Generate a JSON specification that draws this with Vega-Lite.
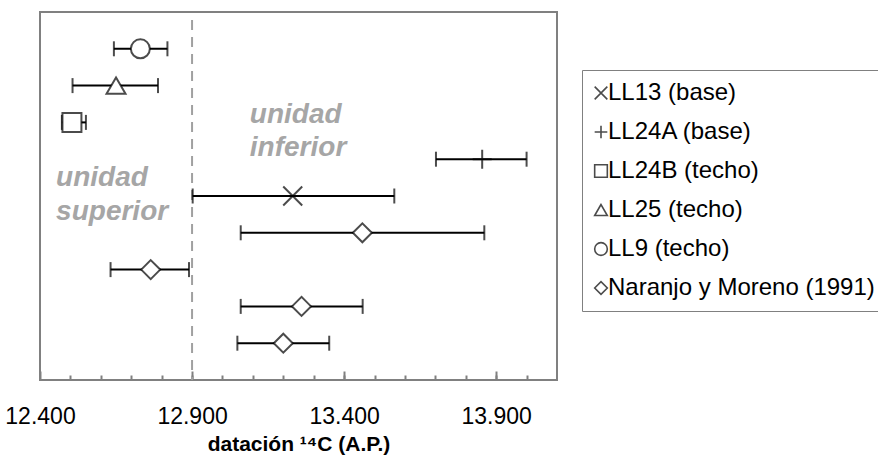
{
  "$schema": "https://vega.github.io/schema/vega-lite/v6.json",
  "width": 517,
  "height": 368,
  "autosize": {"type": "none"},
  "padding": {"left": 40, "top": 12, "right": 321, "bottom": 85},
  "background": "white",
  "config": {"font": "Liberation Sans", "view": {"stroke": "#808080", "strokeWidth": 2}},
  "resolve": {"axis": {"x": "independent"}, "legend": {"shape": "independent"}},
  "datasets": {
    "dates": [
      {"serie": "LL9 (techo)", "fila": 1, "edad": 12730, "min": 12643, "max": 12819},
      {"serie": "LL25 (techo)", "fila": 2, "edad": 12650, "min": 12507, "max": 12788},
      {"serie": "LL24B (techo)", "fila": 3, "edad": 12505, "min": 12472, "max": 12551},
      {"serie": "LL24A (base)", "fila": 4, "edad": 13854, "min": 13702, "max": 14000},
      {"serie": "LL13 (base)", "fila": 5, "edad": 13231, "min": 12902, "max": 13565},
      {"serie": "Naranjo y Moreno (1991)", "fila": 6, "edad": 13460, "min": 13060, "max": 13861},
      {"serie": "Naranjo y Moreno (1991)", "fila": 7, "edad": 12764, "min": 12632, "max": 12890},
      {"serie": "Naranjo y Moreno (1991)", "fila": 8, "edad": 13260, "min": 13060, "max": 13461},
      {"serie": "Naranjo y Moreno (1991)", "fila": 9, "edad": 13200, "min": 13049, "max": 13351}
    ],
    "rotulos": [
      {"texto": "unidad", "edad": 12453, "fila": 4.51},
      {"texto": "superior", "edad": 12453, "fila": 5.43},
      {"texto": "unidad", "edad": 13090, "fila": 2.8},
      {"texto": "inferior", "edad": 13090, "fila": 3.7}
    ],
    "divisoria": [{"edad": 12900, "desde": 0.22, "hasta": 10}]
  },
  "layer": [
    {
      "data": {"name": "rotulos"},
      "mark": {"type": "text", "align": "left", "baseline": "middle", "fontSize": 28, "fontWeight": "bold", "fontStyle": "italic", "color": "#a6a6a6", "font": "Liberation Sans"},
      "encoding": {
        "x": {"field": "edad", "type": "quantitative", "axis": null},
        "y": {"field": "fila", "type": "quantitative", "scale": {"domain": [0, 10], "reverse": true, "nice": false, "zero": false}, "axis": null},
        "text": {"field": "texto"}
      }
    },
    {
      "data": {"name": "divisoria"},
      "mark": {"type": "rule", "color": "#a0a0a0", "strokeWidth": 2, "strokeDash": [10, 7]},
      "encoding": {
        "x": {"field": "edad", "type": "quantitative", "axis": null},
        "y": {"field": "desde", "type": "quantitative", "axis": null},
        "y2": {"field": "hasta"}
      }
    },
    {
      "data": {"name": "dates"},
      "mark": {"type": "rule", "color": "black", "strokeWidth": 2},
      "encoding": {
        "x": {"field": "min", "type": "quantitative", "axis": null},
        "x2": {"field": "max"},
        "y": {"field": "fila", "type": "quantitative", "axis": null}
      }
    },
    {
      "data": {"name": "dates"},
      "mark": {"type": "tick", "orient": "vertical", "size": 15, "thickness": 2, "color": "black"},
      "encoding": {
        "x": {"field": "min", "type": "quantitative", "axis": null},
        "y": {"field": "fila", "type": "quantitative", "axis": null}
      }
    },
    {
      "data": {"name": "dates"},
      "mark": {"type": "tick", "orient": "vertical", "size": 15, "thickness": 2, "color": "black"},
      "encoding": {
        "x": {"field": "max", "type": "quantitative", "axis": null},
        "y": {"field": "fila", "type": "quantitative", "axis": null}
      }
    },
    {
      "data": {"name": "dates"},
      "mark": {"type": "point", "filled": true, "color": "white", "opacity": 1, "size": 360},
      "encoding": {
        "x": {
          "field": "edad",
          "type": "quantitative",
          "axis": {
            "orient": "bottom",
            "title": null,
            "values": [12500, 12600, 12700, 12800, 12900, 13000, 13100, 13200, 13300, 13400, 13500, 13600, 13700, 13800, 13900, 14000],
            "domain": false,
            "grid": false,
            "labels": false,
            "tickColor": "#808080",
            "tickWidth": 2,
            "tickSize": -5
          }
        },
        "y": {"field": "fila", "type": "quantitative", "axis": null},
        "shape": {"field": "serie", "type": "nominal", "legend": null}
      }
    },
    {
      "data": {"name": "dates"},
      "mark": {"type": "point", "filled": false, "stroke": "black", "strokeWidth": 2, "size": 360},
      "encoding": {
        "x": {
          "field": "edad",
          "type": "quantitative",
          "scale": {"domain": [12400, 14100], "nice": false, "zero": false},
          "axis": {
            "orient": "bottom",
            "title": "datación ¹⁴C (A.P.)",
            "values": [12400, 12900, 13400, 13900],
            "domain": false,
            "grid": false,
            "tickColor": "#808080",
            "tickWidth": 2,
            "tickSize": -9,
            "labelExpr": "replace(format(datum.value, ','), ',', '.')",
            "labelFont": "Liberation Sans",
            "labelFontSize": 23,
            "labelColor": "black",
            "labelPadding": 34,
            "labelOverlap": false,
            "labelBound": false,
            "labelFlush": false,
            "titleFont": "Liberation Sans",
            "titleFontSize": 21,
            "titleFontWeight": "bold",
            "titleColor": "black",
            "titlePadding": 5
          }
        },
        "y": {"field": "fila", "type": "quantitative", "axis": null},
        "shape": {
          "field": "serie",
          "type": "nominal",
          "scale": {
            "domain": ["LL13 (base)", "LL24A (base)", "LL24B (techo)", "LL25 (techo)", "LL9 (techo)", "Naranjo y Moreno (1991)"],
            "range": ["M-1,-1L1,1M-1,1L1,-1", "M-1,0L1,0M0,-1L0,1", "square", "triangle-up", "circle", "diamond"]
          },
          "legend": {
            "title": null,
            "orient": "none",
            "legendX": 542,
            "legendY": 58,
            "labelFont": "Liberation Sans",
            "labelFontSize": 24,
            "labelColor": "black",
            "labelLimit": 500,
            "symbolSize": 160,
            "symbolStrokeWidth": 1.6,
            "strokeColor": "#808080",
            "fillColor": "white",
            "padding": 11,
            "rowPadding": 15,
            "symbolOffset": -4,
            "labelOffset": -5,
            "encode": {
              "legend": {"update": {"strokeWidth": {"value": 2}}}
            }
          }
        }
      }
    }
  ]
}
